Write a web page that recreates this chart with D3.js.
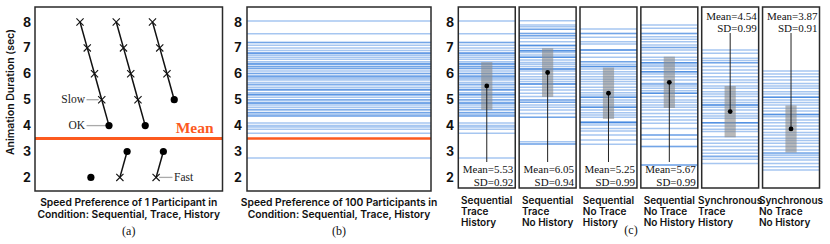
<!DOCTYPE html>
<html><head><meta charset="utf-8">
<script src="https://cdn.jsdelivr.net/npm/d3@7"></script>
<style>
html,body{margin:0;padding:0;background:#fff;}
svg{display:block;}
</style></head>
<body>
<script>
// ---------- DATA ----------
const yTicks = [2, 3, 4, 5, 6, 7, 8];
const meanPreference = 3.5;

// Panel (a): one participant's staircase runs (x = trial position, y = duration)
const runSlow1 = {x: [0, 1, 2, 3, 4], y: [8, 7, 6, 5, 4], mark: ["x","x","x","x","dot"]};
const runFast1 = {x: [1.5], y: [2], mark: ["dot"]};
const runSlow2 = {x: [5, 6, 7, 8, 9], y: [8, 7, 6, 5, 4], mark: ["x","x","x","x","dot"]};
const runFast2 = {x: [5.5, 6.5], y: [2, 3], mark: ["x","dot"]};
const runSlow3 = {x: [10, 11, 12, 13], y: [8, 7, 6, 5], mark: ["x","x","x","dot"]};
const runFast3 = {x: [10.5, 11.5], y: [2, 3], mark: ["x","dot"]};
const runs = [runSlow1, runFast1, runSlow2, runFast2, runSlow3, runFast3];
const annotLabels = ["Slow", "OK", "Fast"];

// Panel (c): condition names and per-participant preferred durations
const conditions = [
  ["Sequential", "Trace", "History"],
  ["Sequential", "Trace", "No History"],
  ["Sequential", "No Trace", "History"],
  ["Sequential", "No Trace", "No History"],
  ["Synchronous", "Trace", "History"],
  ["Synchronous", "No Trace", "No History"]
];
const means = [5.53, 6.05, 5.25, 5.67, 4.54, 3.87];
const sds = [0.92, 0.94, 0.99, 0.99, 0.99, 0.91];

const seqTraceHistory = [8.04, 7.55, 7.22, 7.2, 7.1, 7.0, 6.9, 6.8, 6.8, 6.78, 6.72, 6.64, 6.56, 6.47, 6.4, 6.38, 6.37, 6.28, 6.28, 6.2, 6.2, 6.11, 6.02, 6.0, 5.92, 5.9, 5.88, 5.82, 5.76, 5.66, 5.6, 5.57, 5.48, 5.4, 5.37, 5.37, 5.27, 5.2, 5.2, 5.18, 5.09, 5.0, 4.99, 4.9, 4.86, 4.86, 4.8, 4.71, 4.62, 4.6, 4.51, 4.5, 4.43, 4.37, 4.37, 4.1, 4.0, 3.95, 3.86, 3.7, 2.75];
const seqTraceNoHistory = [8.05, 7.88, 7.82, 7.72, 7.72, 7.56, 7.56, 7.47, 7.47, 7.37, 7.24, 7.09, 7.09, 7.09, 6.98, 6.89, 6.89, 6.89, 6.82, 6.73, 6.64, 6.64, 6.64, 6.53, 6.44, 6.37, 6.28, 6.19, 6.19, 6.19, 6.11, 5.99, 5.89, 5.79, 5.7, 5.61, 5.61, 5.61, 5.48, 5.37, 5.25, 5.12, 4.99, 4.99, 4.9, 4.9, 4.8, 4.71, 4.6, 4.47, 4.32, 4.32, 3.38, 3.29, 3.29];
const seqNoTraceHistory = [7.73, 7.56, 7.56, 7.41, 7.24, 7.15, 6.92, 6.92, 6.92, 6.79, 6.64, 6.47, 6.47, 6.37, 6.28, 6.28, 6.28, 6.19, 6.08, 5.99, 5.89, 5.79, 5.7, 5.61, 5.48, 5.37, 5.27, 5.18, 5.09, 5.09, 5.09, 4.99, 4.9, 4.8, 4.71, 4.71, 4.71, 4.6, 4.5, 4.41, 4.32, 4.13, 4.13, 4.13, 4.1, 4.02, 3.89, 3.79, 3.64, 3.44, 3.28];
const seqNoTraceNoHistory = [7.88, 7.76, 7.56, 7.56, 7.43, 7.33, 7.24, 7.11, 7.02, 7.02, 6.92, 6.79, 6.64, 6.53, 6.43, 6.43, 6.43, 6.34, 6.28, 6.19, 6.08, 6.08, 6.08, 5.99, 5.89, 5.76, 5.63, 5.6, 5.53, 5.44, 5.35, 5.25, 5.25, 5.25, 5.12, 4.99, 4.9, 4.8, 4.71, 4.6, 4.47, 4.34, 4.22, 4.09, 3.89, 3.64, 3.64, 3.47, 3.19, 3.19, 2.48, 2.48];
const syncTraceHistory = [6.92, 6.79, 6.6, 6.51, 6.43, 6.43, 6.28, 6.15, 6.02, 5.89, 5.76, 5.66, 5.53, 5.44, 5.31, 5.22, 5.12, 4.99, 4.89, 4.8, 4.8, 4.8, 4.71, 4.6, 4.47, 4.37, 4.28, 4.11, 4.11, 4.11, 3.98, 3.86, 3.77, 3.57, 3.44, 3.32, 3.19, 3.06, 2.93, 2.83, 2.8, 2.7, 2.54];
const syncNoTraceNoHistory = [6.11, 5.99, 5.89, 5.76, 5.63, 5.53, 5.44, 5.31, 5.22, 5.09, 5.09, 5.09, 4.99, 4.89, 4.8, 4.67, 4.56, 4.43, 4.43, 4.43, 4.34, 4.22, 4.11, 3.98, 3.86, 3.73, 3.64, 3.51, 3.42, 3.32, 3.19, 3.06, 2.95, 2.92, 2.86, 2.77, 2.67, 2.54, 2.41, 2.29];
const conditionValues = [seqTraceHistory, seqTraceNoHistory, seqNoTraceHistory, seqNoTraceNoHistory, syncTraceHistory, syncNoTraceNoHistory];

// ---------- STYLE ----------
const SANS = "Inter, 'Noto Sans', sans-serif";
const SERIF = "'Liberation Serif', 'DejaVu Serif', serif";
const ORANGE = "#fc5a1f";
const BLUE = "#2a78dc";
const BOX = "#2a2a2a";
const LINE_OP = 0.42;

const svg = d3.select("body").append("svg").attr("width", 830).attr("height", 244);

const y = d3.scaleLinear().domain([2, 8]).range([177.4, 22]);

function yAxisLabels(g, xc) {
  g.selectAll("text.tick").data(yTicks).join("text")
    .attr("x", xc).attr("y", d => y(d)).attr("dy", "0.36em")
    .attr("text-anchor", "middle").attr("font-family", SANS)
    .attr("font-weight", 700).attr("font-size", 12.5).attr("fill", "#111").text(d => d);
}
function titleLines(lines, xc, y0, lh) {
  lines.forEach((t, i) => svg.append("text").attr("x", xc).attr("y", y0 + i * lh)
    .attr("text-anchor", "middle").attr("font-family", SANS).attr("font-weight", 600)
    .attr("font-size", 10.3).attr("fill", "#111").text(t));
}
function caption(t, xc, yb) {
  svg.append("text").attr("x", xc).attr("y", yb).attr("text-anchor", "middle")
    .attr("font-family", SERIF).attr("font-size", 12).attr("fill", "#111").text(t);
}

// ---------- PANEL (a) ----------
const aL = 35, aR = 222.5, aT = 7, aB = 191;
const xa = d3.scaleLinear().domain([-6.21, 19.66]).range([aL, aR]);
const ga = svg.append("g");
yAxisLabels(ga, 27);
ga.append("text").attr("transform", `translate(14,92) rotate(-90)`)
  .attr("text-anchor", "middle").attr("font-family", SANS).attr("font-weight", 600)
  .attr("font-size", 10.5).attr("fill", "#111").text("Animation Duration (sec)");

// mean line
ga.append("line").attr("x1", aL).attr("x2", aR).attr("y1", y(meanPreference)).attr("y2", y(meanPreference))
  .attr("stroke", ORANGE).attr("stroke-width", 3);
ga.append("text").attr("x", xa(13.2)).attr("y", y(meanPreference) - 6)
  .attr("font-family", SERIF).attr("font-weight", 700).attr("font-size", 15.5)
  .attr("fill", ORANGE).text("Mean");

// annotation connectors
const annot = [
  {run: runSlow1, i: 3, label: annotLabels[0], side: "left"},
  {run: runSlow1, i: 4, label: annotLabels[1], side: "left"},
  {run: runFast3, i: 0, label: annotLabels[2], side: "right"}
];
annot.forEach(a => {
  const px = xa(a.run.x[a.i]), py = y(a.run.y[a.i]);
  if (a.side === "left") {
    ga.append("line").attr("x1", 86.5).attr("x2", px - 3).attr("y1", py).attr("y2", py)
      .attr("stroke", "#aaa").attr("stroke-width", 1.3);
    ga.append("text").attr("x", 85).attr("y", py).attr("dy", "0.33em").attr("text-anchor", "end")
      .attr("font-family", SERIF).attr("font-size", 11.5).attr("fill", "#222").text(a.label);
  } else {
    ga.append("line").attr("x1", px + 3).attr("x2", 172.5).attr("y1", py).attr("y2", py)
      .attr("stroke", "#aaa").attr("stroke-width", 1.3);
    ga.append("text").attr("x", 174).attr("y", py).attr("dy", "0.33em").attr("text-anchor", "start")
      .attr("font-family", SERIF).attr("font-size", 11.5).attr("fill", "#222").text(a.label);
  }
});

const lineGen = d3.line().x(d => xa(d[0])).y(d => y(d[1]));
runs.forEach(r => {
  const pts = r.x.map((xv, i) => [xv, r.y[i], r.mark[i]]);
  if (pts.length > 1) ga.append("path").attr("d", lineGen(pts)).attr("fill", "none")
    .attr("stroke", "#111").attr("stroke-width", 1.5);
  pts.forEach(p => {
    const cx = xa(p[0]), cy = y(p[1]);
    if (p[2] === "dot") {
      ga.append("circle").attr("cx", cx).attr("cy", cy).attr("r", 3.6).attr("fill", "#000");
    } else {
      const s = 3.6;
      ga.append("path").attr("d", `M${cx-s},${cy-s}L${cx+s},${cy+s}M${cx-s},${cy+s}L${cx+s},${cy-s}`)
        .attr("stroke", "#111").attr("stroke-width", 1.1).attr("fill", "none");
    }
  });
});
ga.append("rect").attr("x", aL).attr("y", aT).attr("width", aR - aL).attr("height", aB - aT)
  .attr("fill", "none").attr("stroke", BOX).attr("stroke-width", 1.5);
titleLines(["Speed Preference of 1 Participant in", "Condition: Sequential, Trace, History"], (aL + aR) / 2, 205.5, 12);
caption("(a)", (aL + aR) / 2, 234.5);

// ---------- PANEL (b) ----------
const bL = 247, bR = 431, bT = 7, bB = 191;
const gb = svg.append("g");
yAxisLabels(gb, 238);
gb.selectAll("line.pref").data(seqTraceHistory).join("line")
  .attr("x1", bL).attr("x2", bR).attr("y1", d => y(d)).attr("y2", d => y(d))
  .attr("stroke", BLUE).attr("stroke-opacity", LINE_OP).attr("stroke-width", 1.5);
gb.append("line").attr("x1", bL).attr("x2", bR).attr("y1", y(meanPreference)).attr("y2", y(meanPreference))
  .attr("stroke", ORANGE).attr("stroke-width", 2.5);
gb.append("rect").attr("x", bL).attr("y", bT).attr("width", bR - bL).attr("height", bB - bT)
  .attr("fill", "none").attr("stroke", BOX).attr("stroke-width", 1.5);
titleLines(["Speed Preference of 100 Participants in", "Condition: Sequential, Trace, History"], (bL + bR) / 2, 205.5, 12);
caption("(b)", (bL + bR) / 2, 234.5);

// ---------- PANEL (c) ----------
const cT = 7, cB = 188;
const xc = d3.scaleBand().domain(d3.range(conditions.length)).range([458.3, 819.5]).paddingInner(0.064).paddingOuter(0);
const gc = svg.append("g");
yAxisLabels(gc, 450);
conditions.forEach((cond, k) => {
  const x0 = xc(k), w = xc.bandwidth(), cx = x0 + w / 2;
  const g = gc.append("g");
  g.selectAll("line.pref").data(conditionValues[k]).join("line")
    .attr("x1", x0).attr("x2", x0 + w).attr("y1", d => y(d)).attr("y2", d => y(d))
    .attr("stroke", BLUE).attr("stroke-opacity", LINE_OP).attr("stroke-width", 1.5);
  g.append("rect").attr("x", cx - 5.6).attr("width", 11.2)
    .attr("y", y(means[k] + sds[k])).attr("height", y(means[k] - sds[k]) - y(means[k] + sds[k]))
    .attr("fill", "#8a8a8a").attr("fill-opacity", 0.6);
  const top = cond[0] === "Synchronous";
  const textRight = x0 + w - 2;
  if (top) {
    g.append("line").attr("x1", cx).attr("x2", cx).attr("y1", 33).attr("y2", y(means[k]))
      .attr("stroke", "#222").attr("stroke-width", 1);
    g.append("text").attr("x", textRight).attr("y", 20).attr("text-anchor", "end")
      .attr("font-family", SERIF).attr("font-size", 11).attr("fill", "#111").text(`Mean=${means[k].toFixed(2)}`);
    g.append("text").attr("x", textRight).attr("y", 32.3).attr("text-anchor", "end")
      .attr("font-family", SERIF).attr("font-size", 11).attr("fill", "#111").text(`SD=${sds[k].toFixed(2)}`);
  } else {
    g.append("line").attr("x1", cx).attr("x2", cx).attr("y1", y(means[k])).attr("y2", 162)
      .attr("stroke", "#222").attr("stroke-width", 1);
    g.append("text").attr("x", textRight).attr("y", 173).attr("text-anchor", "end")
      .attr("font-family", SERIF).attr("font-size", 11).attr("fill", "#111").text(`Mean=${means[k].toFixed(2)}`);
    g.append("text").attr("x", textRight).attr("y", 185.5).attr("text-anchor", "end")
      .attr("font-family", SERIF).attr("font-size", 11).attr("fill", "#111").text(`SD=${sds[k].toFixed(2)}`);
  }
  g.append("circle").attr("cx", cx).attr("cy", y(means[k])).attr("r", 2.4).attr("fill", "#000");
  g.append("rect").attr("x", x0).attr("y", cT).attr("width", w).attr("height", cB - cT)
    .attr("fill", "none").attr("stroke", BOX).attr("stroke-width", 1.5);
  // condition label block, left-aligned lines, block centred on box
  const lab = gc.append("g");
  const texts = cond.map((t, i) => lab.append("text").attr("x", 0).attr("y", 203.5 + i * 11.3)
    .attr("font-family", SANS).attr("font-weight", 600).attr("font-size", 10).attr("fill", "#111").text(t));
  const maxW = d3.max(texts, t => t.node().getComputedTextLength());
  lab.attr("transform", `translate(${cx - maxW / 2},0)`);
});
caption("(c)", 631, 233.5);
</script>
</body></html>
